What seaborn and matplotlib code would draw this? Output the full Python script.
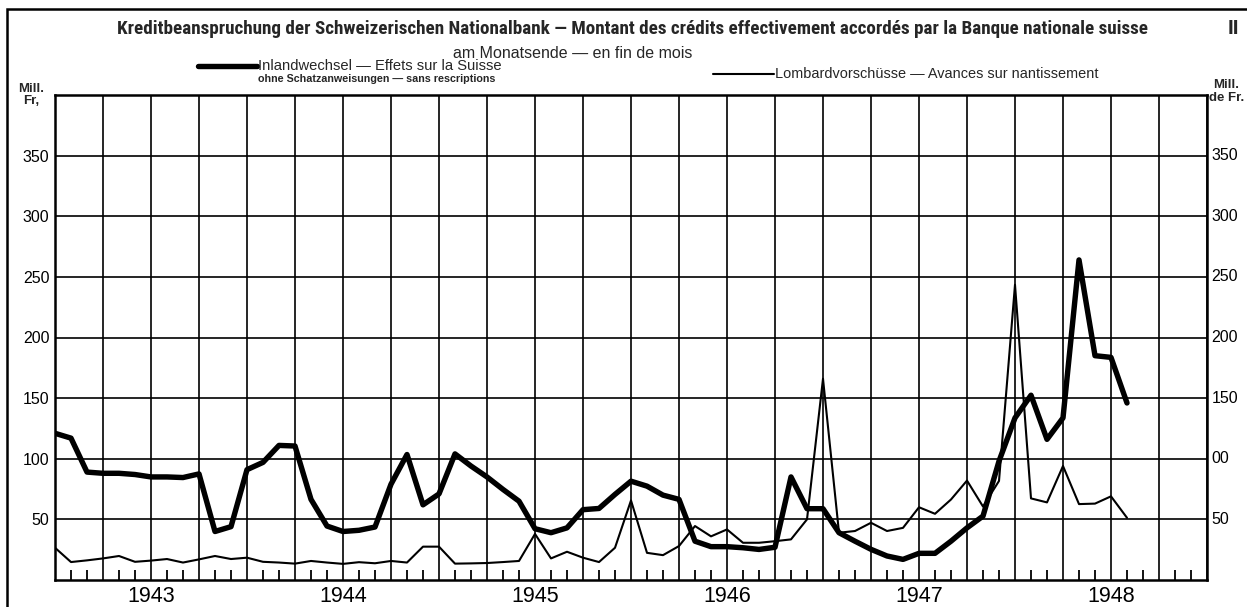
import matplotlib
matplotlib.use("Agg")
import numpy as np
import pandas as pd
import seaborn as sns
import matplotlib.pyplot as plt
from matplotlib.lines import Line2D
from matplotlib.patches import Rectangle
from matplotlib import font_manager as fm

# ---------------- data (month-ends, index 0 = end of Dec 1942) ----------------
months = list(range(68))
inlandwechsel = [121, 117, 89, 88, 88, 87, 85, 85, 84.5, 87.5,
                 40, 44, 91, 97, 111, 110.5, 66.5, 44.5, 40, 41,
                 43.7, 79, 103.5, 62, 71, 104, 94, 85, 74.7, 65,
                 42.3, 39, 43, 58, 59, 70.6, 81.5, 77.4, 70, 66.5,
                 32, 27.5, 27.5, 26.6, 25.2, 27, 85, 58.8, 58.8, 39,
                 32, 25.3, 19.8, 17, 22, 22, 32, 43, 52.7, 98,
                 133.7, 152.4, 116, 133.7, 264, 185, 183.6, 146]
lombard = [26.6, 14.8, 16.2, 17.8, 19.8, 15, 16, 17.3, 14.4, 17,
           19.8, 17.3, 18.4, 15, 14.4, 13.5, 15.7, 14.4, 13.3, 14.7,
           13.8, 15.7, 14.4, 27.5, 27.5, 13.5, 13.7, 14, 14.8, 15.7,
           38, 17.8, 23.3, 18.4, 14.8, 26.6, 65.6, 22.4, 20.5, 28,
           44.5, 36, 41.7, 30.7, 30.7, 32, 33.5, 50, 166, 39,
           40.4, 47.2, 40.4, 43, 60, 54.6, 66.4, 82, 60.6, 81.7,
           243.5, 67.3, 64, 94, 62.6, 63, 69, 51.3]
years = ["1943", "1944", "1945", "1946", "1947", "1948"]
y_ticks = [50, 100, 150, 200, 250, 300, 350]
y_labels_left = ["50", "100", "150", "200", "250", "300", "350"]
y_labels_right = ["50", "00", "150", "200", "250", "300", "350"]

title = ("Kreditbeanspruchung der Schweizerischen Nationalbank \u2014 "
         "Montant des cr\u00e9dits effectivement accord\u00e9s par la Banque nationale suisse")
subtitle = "am Monatsende \u2014 en fin de mois"
leg1 = "Inlandwechsel \u2014 Effets sur la Suisse"
leg1b = "ohne Schatzanweisungen \u2014 sans rescriptions"
leg2 = "Lombardvorsch\u00fcsse \u2014 Avances sur nantissement"

# ---------------- style ----------------
sns.set_style("white")
plt.rcParams['font.family'] = ['Liberation Sans', 'DejaVu Sans']


def has_font(name):
    try:
        fm.findfont(fm.FontProperties(family=name), fallback_to_default=False)
        return True
    except Exception:
        return False


narrow = ['Liberation Sans', 'DejaVu Sans']
for cand in ['Liberation Sans Narrow', 'Roboto Condensed', 'Arial Narrow', 'Nimbus Sans Narrow']:
    if has_font(cand):
        narrow = [cand, 'Liberation Sans', 'DejaVu Sans']
        break

W, H = 1247, 607
fig = plt.figure(figsize=(W / 100, H / 100), dpi=100)
fig.patch.set_facecolor("white")


def fx(px):
    return px / W


def fy(py):
    return 1 - py / H


L, R, T, B = 55, 1207, 95, 580
ax = fig.add_axes([fx(L), fy(B), fx(R) - fx(L), fy(T) - fy(B)])

df = pd.DataFrame({"month": months, "Inland": inlandwechsel, "Lombard": lombard})
sns.lineplot(data=df, x="month", y="Lombard", ax=ax, color="black", lw=1.5, zorder=4)
sns.lineplot(data=df, x="month", y="Inland", ax=ax, color="black", lw=3.9, zorder=5)

ax.set_xlim(0, 72)
ax.set_ylim(0, 400)
ax.set_xlabel("")
ax.set_ylabel("")
ax.set_xticks(range(0, 73, 3))
ax.set_xticklabels([])
ax.set_xticks(range(0, 73), minor=True)
ax.set_yticks(y_ticks)
ax.set_yticklabels(y_labels_left)
ax.grid(True, which="major", color="black", lw=1.2)
ax.tick_params(axis="x", which="major", length=0)
ax.tick_params(axis="x", which="minor", direction="in", length=7, width=1.3, color="black", bottom=True)
ax.tick_params(axis="y", length=0, pad=4, labelsize=11.5, labelcolor="black")
for s in ax.spines.values():
    s.set_visible(True)
    s.set_color("black")
    s.set_linewidth(1.8)

# right-hand labels
for v, lab in zip(y_ticks, y_labels_right):
    ax.text(1.004, v, lab, transform=ax.get_yaxis_transform(), ha="left", va="center",
            fontsize=11.5, color="black")

# year labels
for i, yr in enumerate(years):
    ax.text(6 + 12 * i, -0.034, yr, transform=ax.get_xaxis_transform(), ha="center",
            va="center", fontsize=15.5, color="black")

# unit labels
fig.text(fx(31), fy(89), "Mill.", ha="center", va="center", fontsize=9.5, fontweight="bold")
fig.text(fx(31), fy(101), "Fr,", ha="center", va="center", fontsize=9.5, fontweight="bold")
fig.text(fx(1226), fy(85), "Mill.", ha="center", va="center", fontsize=9.5, fontweight="bold")
fig.text(fx(1227), fy(98), "de Fr.", ha="center", va="center", fontsize=9.5, fontweight="bold")

# titles
fig.canvas.draw()
renderer = fig.canvas.get_renderer()


def fit(t, target_w):
    w = t.get_window_extent(renderer).width
    t.set_fontsize(t.get_fontsize() * target_w / w)


t_title = fig.text(fx(117), fy(29), title, ha="left", va="center", fontsize=13.5,
                   fontweight="bold", family=narrow)
fit(t_title, 1035)
fig.text(fx(1233), fy(29), "II", ha="center", va="center", fontsize=15, fontweight="bold")
t_sub = fig.text(fx(453), fy(53), subtitle, ha="left", va="center", fontsize=11.5)

# legend entries
fig.add_artist(Line2D([fx(198), fx(257)], [fy(66), fy(66)], color="black", lw=3.9))
t1 = fig.text(fx(258), fy(66), leg1, ha="left", va="center", fontsize=10.5)
fit(t1, 246)
t1b = fig.text(fx(258), fy(79), leg1b, ha="left", va="center", fontsize=7, fontweight="bold")
fit(t1b, 240)
fig.add_artist(Line2D([fx(713), fx(774)], [fy(74), fy(74)], color="black", lw=1.5))
t2 = fig.text(fx(775), fy(74), leg2, ha="left", va="center", fontsize=10.5)
fit(t2, 325)

# outer frame
fig.add_artist(Rectangle((fx(7), fy(640)), fx(1300), fy(9) - fy(640), transform=fig.transFigure,
                         fill=False, edgecolor="black", lw=1.8))

fig.savefig("out.png", dpi=100, facecolor="white")
